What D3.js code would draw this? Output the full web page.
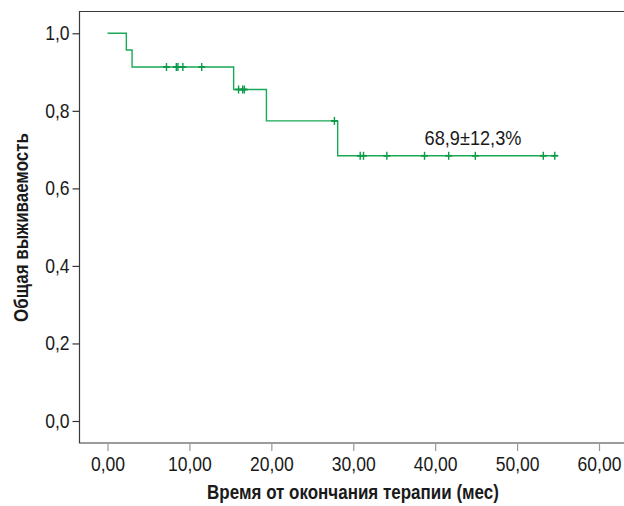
<!DOCTYPE html>
<html>
<head>
<meta charset="utf-8">
<script src="https://cdn.jsdelivr.net/npm/d3@7"></script>
<style>
  body { margin: 0; background: #fff; }
  svg { display: block; font-family: "Liberation Sans", Arial, sans-serif; }
</style>
</head>
<body>
<svg width="624" height="506"></svg>
<script>
// Kaplan-Meier steps (time in months, survival)
var stepTimes = [0, 2.3, 3.0, 15.4, 19.4, 28.1];
var stepSurv = [1.0, 0.957, 0.913, 0.855, 0.774, 0.684];
// censored observations
var censorTimes = [7.2, 8.4, 8.6, 9.2, 11.5, 16.0, 16.5, 16.7, 27.7,
    30.85, 31.25, 34.1, 38.7, 41.65, 44.9, 53.2, 54.6];
var xTicks = [0, 10, 20, 30, 40, 50, 60];
var yTicks = [0, 0.2, 0.4, 0.6, 0.8, 1.0];
var label = "68,9±12,3%";

var svg = d3.select("svg"),
    width = +svg.attr("width"),
    height = +svg.attr("height");

var green = "#19a957";

var x = d3.scaleLinear().domain([0, 60]).range([107.5, 599]);
var y = d3.scaleLinear().domain([0, 1]).range([421, 33.3]);

var frameL = 79.5, frameT = 11.5, frameB = 443;

function survAt(t) {
    var s = stepSurv[0];
    stepTimes.forEach(function (st, i) { if (st <= t) s = stepSurv[i]; });
    return s;
}

// frame (left, top, bottom)
svg.append("path")
    .attr("d", "M" + width + "," + frameT + "H" + frameL + "V" + frameB + "H" + width)
    .attr("fill", "none")
    .attr("stroke", "#3a3a3a")
    .attr("stroke-width", 1.2);

// axes
var yAxis = svg.append("g")
    .attr("transform", "translate(" + frameL + ",0)")
    .call(d3.axisLeft(y).tickValues(yTicks)
        .tickFormat(function (d) { return d.toFixed(1).replace(".", ","); })
        .tickSize(7).tickPadding(4));

var xAxis = svg.append("g")
    .attr("transform", "translate(0," + frameB + ")")
    .call(d3.axisBottom(x).tickValues(xTicks)
        .tickFormat(function (d) { return d.toFixed(2).replace(".", ","); })
        .tickSize(8).tickPadding(6));

[yAxis, xAxis].forEach(function (g) {
    g.select(".domain").remove();
    g.selectAll("text")
        .attr("fill", "#1a1a1a")
        .style("font-size", "19.5px")
        .style("font-family", "'Liberation Sans', Arial, sans-serif")
        .attr("transform", "scale(0.9,1)");
});
yAxis.selectAll("line").attr("stroke", "#333").attr("stroke-width", 1.2);
xAxis.selectAll("line").attr("stroke", "#999").attr("stroke-width", 1.2);

// survival curve
var pts = [];
stepTimes.forEach(function (t, i) {
    if (i > 0) pts.push([t, stepSurv[i - 1]]);
    pts.push([t, stepSurv[i]]);
});
var tEnd = d3.max(censorTimes);
pts.push([tEnd, stepSurv[stepSurv.length - 1]]);

svg.append("path")
    .datum(pts)
    .attr("fill", "none")
    .attr("stroke", green)
    .attr("stroke-width", 1.4)
    .attr("d", d3.line().x(function (d) { return x(d[0]); }).y(function (d) { return y(d[1]); }));

// censor marks
var marks = svg.append("g").selectAll("g")
    .data(censorTimes)
    .enter().append("g")
    .attr("transform", function (d) { return "translate(" + x(d) + "," + y(survAt(d)) + ")"; });
marks.append("line")
    .attr("x1", 0).attr("x2", 0).attr("y1", -4).attr("y2", 4)
    .attr("stroke", "#0a9a48").attr("stroke-width", 1.4);
marks.append("line")
    .attr("x1", -3.5).attr("x2", 3.5).attr("y1", 0).attr("y2", 0)
    .attr("stroke", "#0a9a48").attr("stroke-width", 1.8);

function fitWidth(sel, w) {
    var len = sel.node().getComputedTextLength();
    return w / len;
}

// annotation
var ann = svg.append("text")
    .attr("text-anchor", "middle")
    .style("font-size", "21px")
    .attr("fill", "#1a1a1a")
    .text(label);
var sA = fitWidth(ann, 97);
ann.attr("transform", "translate(473,144.5) scale(" + sA + ",1)");

// axis titles
var xt = svg.append("text")
    .attr("text-anchor", "middle")
    .style("font-size", "20.5px")
    .style("font-weight", "bold")
    .attr("fill", "#1a1a1a")
    .text("Время от окончания терапии (мес)");
var sx = fitWidth(xt, 292);
xt.attr("transform", "translate(353,499) scale(" + sx + ",1)");

var yt = svg.append("text")
    .attr("text-anchor", "middle")
    .style("font-size", "20.5px")
    .style("font-weight", "bold")
    .attr("fill", "#1a1a1a")
    .text("Общая выживаемость");
var sy = fitWidth(yt, 189);
yt.attr("transform", "translate(28,227.5) rotate(-90) scale(" + sy + ",1)");
</script>
</body>
</html>
